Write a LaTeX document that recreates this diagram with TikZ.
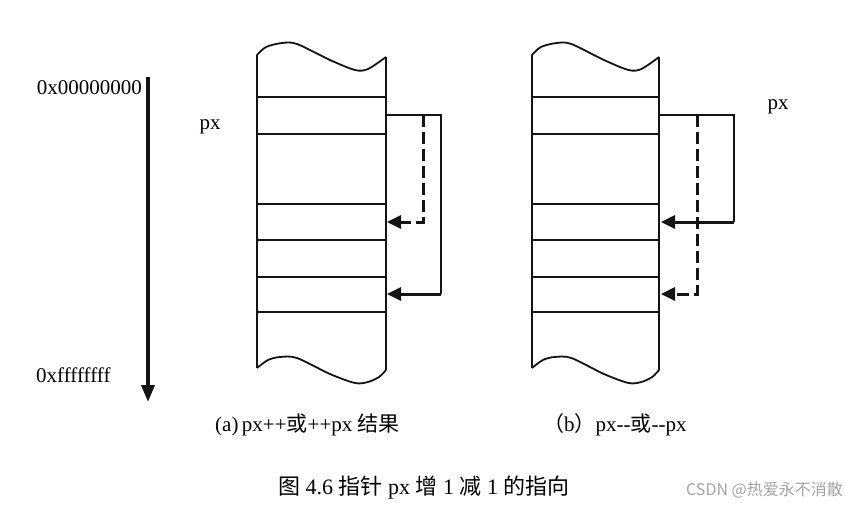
\documentclass[tikz,border=0pt]{standalone}
\usepackage{fontspec}
\setmainfont{Liberation Serif}[Ligatures={TeX,NoCommon}]
\newfontfamily\cjk{Noto Sans CJK SC}
\usepackage{tikz}
\usetikzlibrary{arrows.meta}
\definecolor{ink}{HTML}{141414}
\definecolor{mark}{HTML}{A3A3A3}

\tikzset{
  cellline/.style={ink,line width=1.8pt},
  thinlink/.style={ink,line width=1.8pt},
  thicklink/.style={ink,line width=3pt,-{Triangle[length=14pt,width=13pt]}},
  dashlink/.style={ink,line width=3pt,dash pattern=on 12pt off 5pt,-{Triangle[length=14pt,width=13pt]}},
  lbl/.style={font=\fontsize{21}{24}\selectfont,inner sep=0pt}
}

\begin{document}
\begin{tikzpicture}[x=1pt,y=-1pt]
\useasboundingbox (0,0) rectangle (845,519);
% address axis
\coordinate (low) at (148,77);
\coordinate (high) at (148,402);
\draw[ink,line width=3.8pt,-{Triangle[length=17pt,width=13pt]}] (low) -- (high);
\node[lbl,anchor=east] (lowaddr) at (142,88) {0x00000000};
\node[lbl,anchor=west] (highaddr) at (36,375) {0xffffffff};
% memory columns
\foreach \dx/\s in {257/1,532/0.985}{
  \begin{scope}[shift={(\dx,0)},xscale=\s]
    \draw[cellline] plot[smooth] coordinates {(0,55) (9,47) (25,43) (40,44) (73,60) (98,70) (111,69) (129,57)};
    \draw[cellline] plot[smooth] coordinates {(0,368) (11,360) (23,357) (40,358) (73,374) (98,383) (111,382) (122,377) (129,370)};
    \draw[cellline] (0,55) -- (0,368);
    \draw[cellline] (129,57) -- (129,370);
    \foreach \y in {97,134,204,240,277,312}
      \draw[cellline] (0,\y) -- (129,\y);
  \end{scope}
}
% (a) px++
\coordinate (a-top) at (386,115);
\coordinate (a-out) at (441,115);
\coordinate (a-bend) at (441,294);
\coordinate (a-c4) at (387,294);
\coordinate (a-dash) at (423,115);
\coordinate (a-c2) at (387,222);
\draw[thinlink] (a-top) -- (a-out) -- (a-bend);
\draw[thicklink] (a-bend) -- (a-c4);
\draw[dashlink] (a-dash) |- (a-c2);
\node[lbl] (pxa) at (210,127) {px};
% (b) px--
\coordinate (b-top) at (659,115);
\coordinate (b-out) at (734,115);
\coordinate (b-bend) at (734,222);
\coordinate (b-c2) at (661,222);
\coordinate (b-dash) at (697,115);
\coordinate (b-c4) at (661,294);
\draw[thinlink] (b-top) -- (b-out) -- (b-bend);
\draw[thicklink] (b-bend) -- (b-c2);
\draw[dashlink] (b-dash) |- (b-c4);
\node[lbl] (pxb) at (778,107) {px};
% captions
\node[lbl,anchor=west] (capa) at (215,425) {(a)\,px++{\cjk 或}++px {\cjk 结果}};
\node[lbl,anchor=west] (capb) at (543,425) {{\cjk （}b{\cjk ）}px-{}-{\cjk 或}-{}-px};
\node[lbl,anchor=west,font=\fontsize{22}{25}\selectfont] (fig) at (278,488) {{\cjk 图} 4.6 {\cjk 指针} px {\cjk 增} 1 {\cjk 减} 1 {\cjk 的指向}};
\node[anchor=east,inner sep=0pt,text=mark,font=\cjk\fontsize{16}{18}\selectfont] (wm) at (843,490) {CSDN @热爱永不消散};
\end{tikzpicture}
\end{document}
